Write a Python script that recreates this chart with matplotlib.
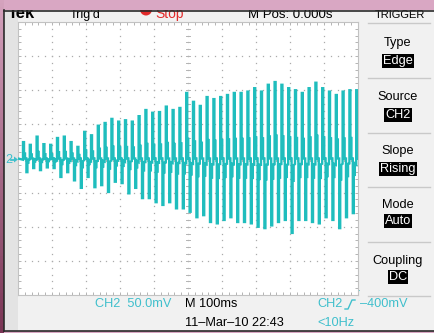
import numpy as np
import matplotlib
matplotlib.use('Agg')
import matplotlib.pyplot as plt
from matplotlib.patches import Rectangle, Polygon, Circle
from matplotlib.colors import LinearSegmentedColormap

plt.rcParams['font.family'] = ['Liberation Sans', 'DejaVu Sans']

# CH2 waveform: one positive and one negative spike per 20 ms cycle (50 cycles over 1 s)
upper_peaks_mV = [24, 20, 32, 21, 20, 30, 32, 24, 17, 39,
                  34, 48, 52, 58, 54, 56, 54, 62, 71, 67,
                  68, 76, 71, 74, 96, 83, 77, 90, 87, 90,
                  93, 96, 96, 98, 103, 98, 108, 112, 108, 103,
                  100, 96, 103, 111, 103, 98, 93, 98, 100, 100]
lower_peaks_mV = [-20, -14, -17, -13, -14, -27, -20, -32, -43, -27,
                  -42, -39, -49, -34, -36, -51, -43, -58, -58, -64,
                  -68, -64, -73, -73, -78, -86, -83, -93, -95, -90,
                  -86, -93, -93, -95, -100, -102, -98, -93, -90, -109,
                  -90, -90, -93, -95, -86, -90, -102, -86, -80, -98]
first_spike_ms = 14.7
period_ms = 20.0
plateau_fraction = 0.3   # level the trace settles at right after each spike

time_div_ms = 100     # M 100ms
volt_div_mV = 50      # CH2 50.0mV

panel_labels = ['Type', 'Source', 'Slope', 'Mode', 'Coupling']
panel_values = ['Edge', 'CH2', 'Rising', 'Auto', 'DC']

# ---------------- figure ----------------
W, H = 434, 333
fig = plt.figure(figsize=(W / 100, H / 100), dpi=100)
fig.patch.set_facecolor('#d9a7c3')
bg = fig.add_axes([0, 0, 1, 1])
bg.set_xlim(0, W)
bg.set_ylim(H, 0)
bg.axis('off')

CYAN_TXT = '#3fbfcc'
TRACE = '#1fbdbd'

# left maroon strip gradient
grad = np.linspace(0, 1, 100).reshape(-1, 1)
cm = LinearSegmentedColormap.from_list('m', ['#d4a2bd', '#7a3555'])
bg.imshow(grad, extent=[0, 4, H, 0], cmap=cm, aspect='auto', zorder=0)
bg.set_xlim(0, W)
bg.set_ylim(H, 0)

# screen
bg.add_patch(Rectangle((4, 10), W - 4, 321, facecolor='#f1f1f1', edgecolor='none', zorder=1))
bg.add_patch(Rectangle((5, 11), 13, 320, facecolor='#e3e3e3', edgecolor='none', zorder=1))
bg.plot([4, W], [10.5, 10.5], color='#2a2a2a', lw=1.2, zorder=11)
bg.plot([4, 4], [10, 331], color='#2a2a2a', lw=1.2, zorder=11)
bg.plot([4, W], [331, 331], color='#2a2a2a', lw=1.2, zorder=11)

# top (cut-off) status line
bg.text(8, 18.2, 'Tek', fontsize=12, fontweight='bold', color='black', va='baseline', zorder=5)
bg.text(70, 18.2, 'Trig\u2019d', fontsize=9, color='black', va='baseline', zorder=5)
bg.add_patch(Circle((146, 9.5), 6, facecolor='#e22a2a', edgecolor='none', zorder=5))
bg.text(155, 18.2, 'Stop', fontsize=10, color='#e22a2a', va='baseline', zorder=5)
bg.text(248, 18.2, 'M Pos: 0.000s', fontsize=9.5, color='black', va='baseline', zorder=5)
bg.text(375, 18.2, 'TRIGGER', fontsize=8, color='black', va='baseline', zorder=5)
# pink band covering the upper part of status line
bg.add_patch(Rectangle((4, 0), W, 10, facecolor='#d9a7c3', edgecolor='none', zorder=10))

# right menu panel
for ysep in [23, 78, 133, 187, 242, 296]:
    bg.plot([368, 430], [ysep, ysep], color='#c9c9c9', lw=1, zorder=3)
label_y = [43, 97, 151, 205, 261]
value_y = [61, 115, 169, 221, 277]
for lab, val, ly, vy in zip(panel_labels, panel_values, label_y, value_y):
    bg.text(398, ly, lab, fontsize=9.2, color='black', ha='center', va='center', zorder=4)
    bg.text(398, vy, val, fontsize=9.2, color='white', ha='center', va='center', zorder=4,
            bbox=dict(boxstyle='square,pad=0.08', facecolor='black', edgecolor='none'))

# bottom readouts
bg.text(95, 304, 'CH2  %.1fmV' % volt_div_mV, fontsize=9.2, color=CYAN_TXT, va='center', zorder=4)
bg.text(185, 304, 'M %dms' % time_div_ms, fontsize=9.2, color='black', va='center', zorder=4)
bg.text(185, 323, '11\u2013Mar\u201310 22:43', fontsize=9.2, color='black', va='center', zorder=4)
bg.text(317, 304, 'CH2', fontsize=9.2, color=CYAN_TXT, va='center', zorder=4)
bg.plot([345, 348, 352, 355], [309, 309, 300, 300], color=CYAN_TXT, lw=1.0, zorder=4)
bg.text(360, 304, '\u2013400mV', fontsize=9.2, color=CYAN_TXT, va='center', zorder=4)
bg.text(317, 323, '<10Hz', fontsize=9.2, color=CYAN_TXT, va='center', zorder=4)

# channel 2 ground marker
bg.text(5, 160, '2', fontsize=9, color=CYAN_TXT, va='center', zorder=4)
bg.plot([11, 15], [159.5, 159.5], color=CYAN_TXT, lw=1.3, zorder=4)
bg.add_patch(Polygon([[14, 156.5], [18, 159.5], [14, 162.5]], closed=True,
                     facecolor=CYAN_TXT, edgecolor='none', zorder=4))

# ---------------- graticule ----------------
ax = fig.add_axes([18 / W, (H - 295) / H, 340 / W, 273 / H])
ax.set_facecolor('white')
ax.set_xlim(0, 10 * time_div_ms)
ax.set_ylim(-4 * volt_div_mV, 4 * volt_div_mV)
for s in ax.spines.values():
    s.set_color('#c2c2c2')
    s.set_linewidth(0.8)
ax.set_xticks(np.arange(0, 10 * time_div_ms + 1, time_div_ms / 5))
ax.set_yticks(np.arange(-4 * volt_div_mV, 4 * volt_div_mV + 1, volt_div_mV / 5))
ax.tick_params(direction='in', length=2.3, width=0.7, color='#b4b4b4',
               top=True, right=True, labelbottom=False, labelleft=False)

dot_kw = dict(linestyle='none', marker='s', markersize=0.9, color='#ababab', markeredgewidth=0, zorder=1)
ys_all = np.arange(-4 * volt_div_mV, 4 * volt_div_mV + 1, volt_div_mV / 5)
xs_all = np.arange(0, 10 * time_div_ms + 1, time_div_ms / 5)
for gx in np.arange(time_div_ms, 10 * time_div_ms, time_div_ms):
    ax.plot(np.full_like(ys_all, gx), ys_all, **dot_kw)
for gy in np.arange(-3 * volt_div_mV, 4 * volt_div_mV, volt_div_mV):
    ax.plot(xs_all, np.full_like(xs_all, gy), **dot_kw)
# center cross ticks
cx = 5 * time_div_ms
for yv in ys_all:
    ax.plot([cx - 5, cx + 5], [yv, yv], color='#b4b4b4', lw=0.7, zorder=1)
for xv in xs_all:
    ax.plot([xv, xv], [-3, 3], color='#b4b4b4', lw=0.7, zorder=1)

# waveform
t_up = first_spike_ms + period_ms * np.arange(len(upper_peaks_mV))
t_lo = t_up + period_ms / 2
tt = [0.0]
vv = [0.0]
for a, b, up, lo in zip(t_up, t_lo, upper_peaks_mV, lower_peaks_mV):
    ph = plateau_fraction * up
    pl = plateau_fraction * lo
    tt += [a, a, a + 3, a + 3, a + 6, a + 6, b, b, b + 3, b + 3, b + 6, b + 6]
    vv += [pl * 0.3, up, up, ph, ph, 0, 0, lo, lo, pl, pl, pl * 0.3]
ax.plot(tt, vv, color=TRACE, lw=1.7, zorder=3, solid_joinstyle='miter')

# trigger position marker (top) and trigger level marker (bottom right)
bg.add_patch(Rectangle((184, 22), 2, 6, facecolor='black', edgecolor='none', zorder=6))
bg.add_patch(Polygon([[180, 27], [190, 27], [185, 33]], closed=True,
                     facecolor='black', edgecolor='none', zorder=6))
bg.add_patch(Rectangle((354, 286), 2, 5, facecolor=TRACE, edgecolor='none', zorder=6))
bg.add_patch(Polygon([[350, 290], [360, 290], [355, 296]], closed=True,
                     facecolor=TRACE, edgecolor='none', zorder=6))

fig.savefig('out.png', dpi=100, facecolor=fig.get_facecolor())
